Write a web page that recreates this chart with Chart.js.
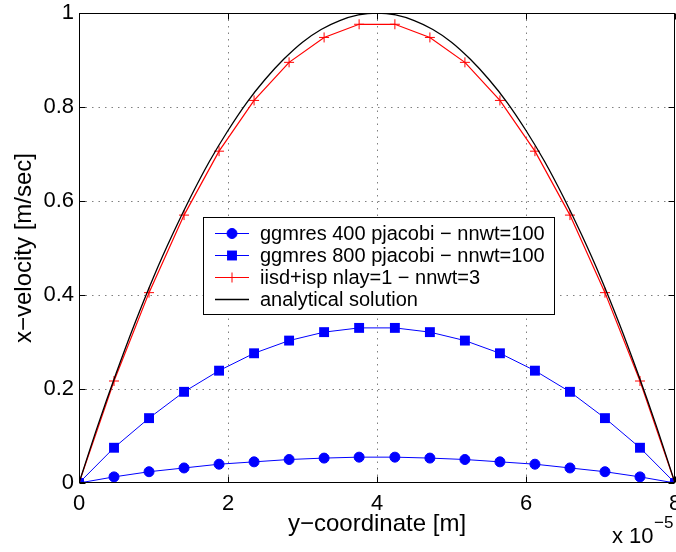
<!DOCTYPE html>
<html lang="en">
<head>
  <meta charset="UTF-8" />
  <title>x-velocity profile</title>
  <style>
    body {
      margin: 0;
      background: #fff;
    }
    #wrap {
      width: 676px;
      height: 552px;
    }
  </style>
  <script src="https://cdn.jsdelivr.net/npm/chart.js"></script>
</head>
<body>
  <div id="wrap"><canvas id="grafico" width="676" height="552"></canvas></div>

  <script>
    // sample positions of the solver runs (units of 1e-5 m)
    const posSolver = [0, 0.47, 0.94, 1.41, 1.88, 2.35, 2.82, 3.29, 3.76, 4.24, 4.71, 5.18, 5.65, 6.12, 6.59, 7.06, 7.53, 8];
    const velGgmres400 = [0, 0.013, 0.024, 0.032, 0.040, 0.045, 0.050, 0.053, 0.055, 0.055, 0.053, 0.050, 0.045, 0.040, 0.032, 0.024, 0.013, 0];
    const velGgmres800 = [0, 0.075, 0.138, 0.194, 0.239, 0.276, 0.303, 0.321, 0.330, 0.330, 0.321, 0.303, 0.276, 0.239, 0.194, 0.138, 0.075, 0];
    const velIisd = [0, 0.217, 0.405, 0.570, 0.706, 0.814, 0.895, 0.948, 0.976, 0.976, 0.948, 0.895, 0.814, 0.706, 0.570, 0.405, 0.217, 0];

    // analytical curve, read at 0.25 steps
    const posAnalitico = [0, 0.25, 0.5, 0.75, 1, 1.25, 1.5, 1.75, 2, 2.25, 2.5, 2.75, 3, 3.25, 3.5, 3.75, 4,
      4.25, 4.5, 4.75, 5, 5.25, 5.5, 5.75, 6, 6.25, 6.5, 6.75, 7, 7.25, 7.5, 7.75, 8];
    const velAnalitico = [0, 0.121, 0.234, 0.340, 0.438, 0.527, 0.609, 0.684, 0.750, 0.809, 0.859, 0.902, 0.938, 0.965, 0.984, 0.996, 1,
      0.996, 0.984, 0.965, 0.938, 0.902, 0.859, 0.809, 0.750, 0.684, 0.609, 0.527, 0.438, 0.340, 0.234, 0.121, 0];

    const rotulos = ["ggmres 400 pjacobi \u2212 nnwt=100", "ggmres 800 pjacobi \u2212 nnwt=100", "iisd+isp nlay=1 \u2212 nnwt=3", "analytical solution"];
    const xTicks = [0, 2, 4, 6, 8];
    const yTicks = [0, 0.2, 0.4, 0.6, 0.8, 1];

    const FONTE = "'Liberation Sans', Arial, Helvetica, sans-serif";

    function pares(xs, ys) {
      return xs.map((x, i) => ({ x: x, y: ys[i] }));
    }

    // desenha o marcador de uma série
    function marcador(ctx, ds, x, y) {
      ctx.save();
      ctx.strokeStyle = ds.borderColor;
      ctx.fillStyle = ds.backgroundColor;
      ctx.lineWidth = 1;
      if (ds.pointStyle === 'circle') {
        ctx.beginPath();
        ctx.arc(x, y, ds.pointRadius, 0, Math.PI * 2);
        ctx.fill();
        ctx.stroke();
      } else if (ds.pointStyle === 'rect') {
        const s = ds.pointRadius * Math.SQRT1_2;
        ctx.fillRect(x - s, y - s, 2 * s, 2 * s);
      } else if (ds.pointStyle === 'cross') {
        const r = ds.pointRadius;
        ctx.beginPath();
        ctx.moveTo(x - r, y); ctx.lineTo(x + r, y);
        ctx.moveTo(x, y - r); ctx.lineTo(x, y + r);
        ctx.stroke();
      }
      ctx.restore();
    }

    // grade pontilhada, caixa, marcas internas, legenda e expoente
    const estiloMatlab = {
      id: 'estiloMatlab',
      beforeDatasetsDraw(chart) {
        const { ctx, chartArea: a, scales } = chart;
        ctx.save();
        ctx.strokeStyle = '#808080';
        ctx.lineWidth = 1;
        ctx.setLineDash([1.5, 5]);
        ctx.beginPath();
        xTicks.slice(1, -1).forEach(v => {
          const px = Math.round(scales.x.getPixelForValue(v)) + 0.5;
          ctx.moveTo(px, a.top); ctx.lineTo(px, a.bottom);
        });
        yTicks.slice(1, -1).forEach(v => {
          const py = Math.round(scales.y.getPixelForValue(v)) + 0.5;
          ctx.moveTo(a.left, py); ctx.lineTo(a.right, py);
        });
        ctx.stroke();
        ctx.restore();
      },
      afterDatasetsDraw(chart) {
        const { ctx, chartArea: a, scales } = chart;
        const l = a.left + 0.5, t = a.top + 0.5, r = a.right - 0.5, b = a.bottom - 0.5;
        ctx.save();
        ctx.strokeStyle = '#000';
        ctx.lineWidth = 1;
        ctx.strokeRect(l, t, r - l, b - t);
        ctx.beginPath();
        xTicks.forEach(v => {
          const px = Math.round(scales.x.getPixelForValue(v)) + 0.5;
          ctx.moveTo(px, b); ctx.lineTo(px, b - 6);
          ctx.moveTo(px, t); ctx.lineTo(px, t + 6);
        });
        yTicks.forEach(v => {
          const py = Math.round(scales.y.getPixelForValue(v)) + 0.5;
          ctx.moveTo(l, py); ctx.lineTo(l + 6, py);
          ctx.moveTo(r, py); ctx.lineTo(r - 6, py);
        });
        ctx.stroke();

        // fator de escala do eixo x
        ctx.fillStyle = '#000';
        ctx.textBaseline = 'alphabetic';
        ctx.font = '22px ' + FONTE;
        ctx.fillText('x 10', 612, 543);
        ctx.font = '17px ' + FONTE;
        ctx.fillText('\u22125', 654, 528);
        ctx.restore();
      },
      afterDraw(chart) {
        const { ctx } = chart;
        const bx = 203.5, by = 217.5, bw = 351, bh = 97;
        ctx.save();
        ctx.fillStyle = '#fff';
        ctx.fillRect(bx, by, bw, bh);
        ctx.strokeStyle = '#000';
        ctx.lineWidth = 1;
        ctx.strokeRect(bx, by, bw, bh);
        ctx.font = '20px ' + FONTE;
        ctx.textBaseline = 'middle';
        chart.data.datasets.forEach((ds, i) => {
          const y = 233 + 22 * i;
          ctx.strokeStyle = ds.borderColor;
          ctx.lineWidth = ds.borderWidth;
          ctx.beginPath();
          ctx.moveTo(215, y + 0.5);
          ctx.lineTo(249, y + 0.5);
          ctx.stroke();
          if (ds.pointRadius > 0) marcador(ctx, ds, 232, y + 0.5);
          ctx.fillStyle = '#000';
          ctx.fillText(ds.label, 260, y + 1);
        });
        ctx.restore();
      }
    };

    const ctx = document.getElementById('grafico').getContext('2d');
    const grafico = new Chart(ctx, {
      type: 'line',
      data: {
        datasets: [
          {
            label: rotulos[0],
            data: pares(posSolver, velGgmres400),
            borderColor: '#0000ff',
            backgroundColor: '#0000ff',
            borderWidth: 1,
            pointStyle: 'circle',
            pointRadius: 5,
            pointBorderWidth: 1,
            order: 4
          },
          {
            label: rotulos[1],
            data: pares(posSolver, velGgmres800),
            borderColor: '#0000ff',
            backgroundColor: '#0000ff',
            borderWidth: 1,
            pointStyle: 'rect',
            pointRadius: 7,
            pointBorderWidth: 0,
            order: 3
          },
          {
            label: rotulos[2],
            data: pares(posSolver, velIisd),
            borderColor: '#ff0000',
            backgroundColor: '#ff0000',
            borderWidth: 1.2,
            pointStyle: 'cross',
            pointRadius: 5,
            pointBorderWidth: 1,
            order: 2
          },
          {
            label: rotulos[3],
            data: pares(posAnalitico, velAnalitico),
            borderColor: '#000000',
            backgroundColor: '#000000',
            borderWidth: 1.3,
            pointRadius: 0,
            tension: 0.3,
            order: 1
          }
        ]
      },
      options: {
        responsive: false,
        animation: false,
        events: [],
        layout: { autoPadding: false, padding: { top: 13, right: 1, left: 0, bottom: 0 } },
        plugins: {
          legend: { display: false },
          tooltip: { enabled: false },
          title: { display: false }
        },
        scales: {
          x: {
            type: 'linear',
            min: 0,
            max: 8,
            grid: { display: false, drawTicks: false },
            border: { display: false },
            ticks: {
              stepSize: 2,
              padding: 8,
              color: '#000',
              font: { family: FONTE, size: 22 },
              maxRotation: 0,
              autoSkip: false,
              callback: v => String(v)
            },
            title: {
              display: true,
              text: 'y\u2212coordinate [m]',
              color: '#000',
              font: { family: FONTE, size: 24 },
              padding: { top: 0, bottom: 13 }
            },
            afterFit(scale) {
              scale.height = 69;
              scale.paddingLeft = 0;
              scale.paddingRight = 0;
            }
          },
          y: {
            min: 0,
            max: 1,
            grid: { display: false, drawTicks: false },
            border: { display: false },
            ticks: {
              stepSize: 0.2,
              padding: 5,
              color: '#000',
              font: { family: FONTE, size: 22 },
              autoSkip: false,
              callback: v => String(+v.toFixed(1))
            },
            title: {
              display: true,
              text: 'x\u2212velocity [m/sec]',
              color: '#000',
              font: { family: FONTE, size: 24 },
              padding: { top: 10, bottom: 0 }
            },
            afterFit(scale) {
              scale.width = 79;
              scale.paddingTop = 0;
              scale.paddingBottom = 0;
            }
          }
        }
      },
      plugins: [estiloMatlab]
    });
  </script>
</body>
</html>
